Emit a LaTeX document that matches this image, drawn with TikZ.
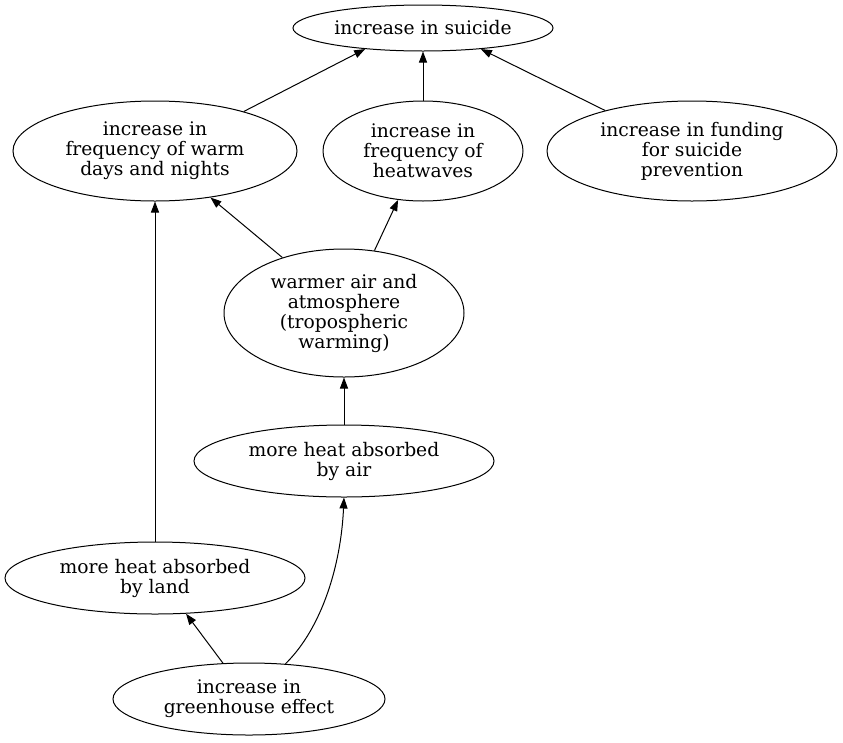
\documentclass[tikz,border=0pt]{standalone}
\usepackage{fontspec}
\setmainfont{DejaVu Serif}
\usetikzlibrary{shapes.geometric,arrows.meta}
\begin{document}
\begin{tikzpicture}[x=1pt,y=-1pt,
    cause/.style={draw,ellipse,inner sep=0pt,align=center,line width=1pt,
      font=\fontsize{18.7}{20}\selectfont},
    link/.style={line width=1pt,-{Triangle[length=11pt,width=8pt]}}]
    \useasboundingbox (0,0) rectangle (843,742);
    \node[cause,minimum width=260pt,minimum height=46pt] (suicide) at (423,28) {increase in suicide};
    \node[cause,minimum width=284pt,minimum height=100pt] (warmdays) at (155,151)
      {increase in\\frequency of warm\\days and nights};
    \node[cause,minimum width=200pt,minimum height=100pt] (heatwaves) at (423,151)
      {increase in\\frequency of\\heatwaves};
    \node[cause,minimum width=290pt,minimum height=100pt] (funding) at (692,151)
      {increase in funding\\for suicide\\prevention};
    \node[cause,minimum width=240pt,minimum height=128pt] (warmair) at (344,313)
      {warmer air and\\atmosphere\\(tropospheric\\warming)};
    \node[cause,minimum width=300pt,minimum height=72pt] (airheat) at (344,461)
      {more heat absorbed\\by air};
    \node[cause,minimum width=300pt,minimum height=72pt] (landheat) at (155,578)
      {more heat absorbed\\by land};
    \node[cause,minimum width=272pt,minimum height=72pt] (greenhouse) at (249,699)
      {increase in\\greenhouse effect};
    \draw[link] (warmdays.24.4) -- (suicide.200);
    \draw[link] (heatwaves.90) -- (suicide.270);
    \draw[link] (funding.155.3) -- (suicide.340);
    \draw[link] (warmair.138.8) -- (warmdays.320);
    \draw[link] (warmair.64.2) -- (heatwaves.243);
    \draw[link] (airheat.90) -- (warmair.270);
    \draw[link] (landheat.90) -- (warmdays.270);
    \draw[link] (greenhouse.126.9) -- (landheat.311.5);
    \draw[link] (greenhouse.44.2) .. controls (322,628) and (341,565) .. (airheat.270);
\end{tikzpicture}
\end{document}
